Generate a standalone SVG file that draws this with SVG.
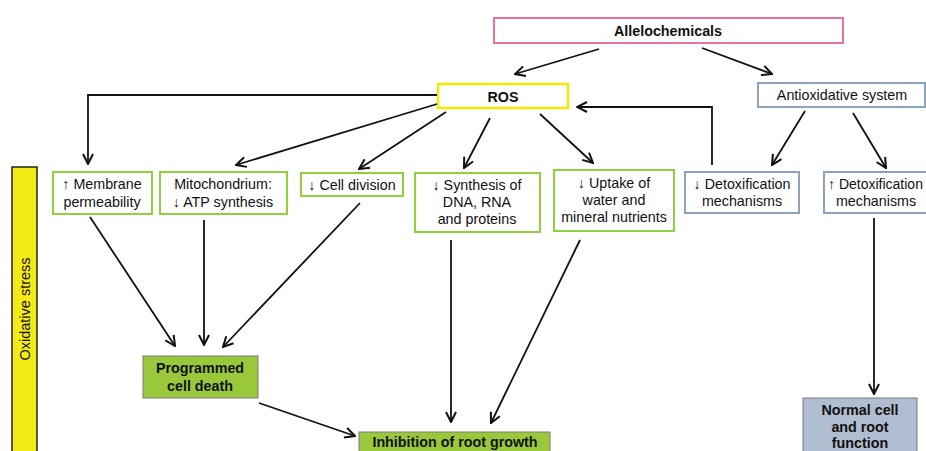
<svg xmlns="http://www.w3.org/2000/svg" width="926" height="451" viewBox="0 0 926 451">
<defs>
<marker id="ah" viewBox="0 0 12 12" refX="11" refY="6" markerWidth="12" markerHeight="12" markerUnits="userSpaceOnUse" orient="auto">
<path d="M1,1 L11,6 L1,11" fill="none" stroke="#111" stroke-width="2"/>
</marker>
<style>
text{font-family:"Liberation Sans",Arial,sans-serif;font-size:14.3px;fill:#111;text-anchor:middle}
.b{font-weight:bold}
.g{fill:#fff;stroke:#92cf3c;stroke-width:2}
.bl{fill:#fff;stroke:#8ea2bd;stroke-width:2}
.c{fill:none;stroke:#111;stroke-width:1.8;marker-end:url(#ah)}
</style>
</defs>
<rect width="926" height="451" fill="#fff"/>

<g id="oxidative-stress">
<rect x="12" y="167" width="25" height="300" fill="#f3ea16" stroke="#222" stroke-width="1.5"/>
<text transform="translate(30,309) rotate(-90)" style="font-size:14.5px">Oxidative stress</text>
</g>

<g id="allelochemicals">
<rect x="494" y="18" width="349" height="25" fill="#fff" stroke="#e8719f" stroke-width="2"/>
<text x="668" y="36" class="b">Allelochemicals</text>
</g>

<g id="ros">
<rect x="438" y="84" width="130" height="24" fill="#fff" stroke="#f2ea00" stroke-width="2.5"/>
<text x="503" y="102" class="b">ROS</text>
</g>

<g id="antioxidative">
<rect x="758" y="83" width="167" height="24" class="bl"/>
<text x="842" y="100">Antioxidative system</text>
</g>

<g id="membrane">
<rect x="53" y="172" width="99" height="42" class="g"/>
<text x="102" y="189">↑ Membrane</text>
<text x="102" y="207">permeability</text>
</g>

<g id="mitochondrium">
<rect x="160" y="172" width="127" height="42" class="g"/>
<text x="223" y="189">Mitochondrium:</text>
<text x="223" y="207">↓ ATP synthesis</text>
</g>

<g id="cell-division">
<rect x="301" y="173" width="102" height="23" class="g"/>
<text x="352" y="190">↓ Cell division</text>
</g>

<g id="synthesis">
<rect x="415" y="173" width="125" height="59" class="g"/>
<text x="477" y="190">↓ Synthesis of</text>
<text x="477" y="207">DNA, RNA</text>
<text x="477" y="224">and proteins</text>
</g>

<g id="uptake">
<rect x="554" y="170" width="120" height="61" class="g"/>
<text x="614" y="188">↓ Uptake of</text>
<text x="614" y="205">water and</text>
<text x="614" y="222">mineral nutrients</text>
</g>

<g id="detox-down">
<rect x="685" y="172" width="114" height="41" class="bl"/>
<text x="742" y="189">↓ Detoxification</text>
<text x="742" y="206">mechanisms</text>
</g>

<g id="detox-up">
<rect x="824" y="172" width="110" height="41" class="bl"/>
<text x="828" y="189" style="text-anchor:start;font-size:14px">↑ Detoxification</text>
<text x="876" y="206">mechanisms</text>
</g>

<g id="programmed-cell-death">
<rect x="143" y="356" width="115" height="42" fill="#99c93b" stroke="#7a7a7a" stroke-width="1"/>
<text x="200" y="373" class="b">Programmed</text>
<text x="200" y="391" class="b">cell death</text>
</g>

<g id="inhibition">
<rect x="359" y="432" width="191" height="30" fill="#99c93b" stroke="#7a7a7a" stroke-width="1"/>
<text x="455" y="447" class="b">Inhibition of root growth</text>
</g>

<g id="normal-cell">
<rect x="803" y="398" width="114" height="60" fill="#b1bdd0" stroke="#7a7a7a" stroke-width="1"/>
<text x="860" y="415" class="b">Normal cell</text>
<text x="860" y="432" class="b">and root</text>
<text x="860" y="448" class="b">function</text>
</g>

<g id="connectors">
<path class="c" d="M599,49 L515,74"/>
<path class="c" d="M702,48 L772,74"/>
<path class="c" d="M437,95 H88 V164"/>
<path class="c" d="M437,104 L236,165"/>
<path class="c" d="M446,112 L359,169"/>
<path class="c" d="M490,118 L464,168"/>
<path class="c" d="M540,114 L593,163"/>
<path class="c" d="M712,165 V107 H577"/>
<path class="c" d="M805,111 L772,165"/>
<path class="c" d="M853,113 L886,168"/>
<path class="c" d="M874,218 V394"/>
<path class="c" d="M90,217 L175,346"/>
<path class="c" d="M204,220 V345"/>
<path class="c" d="M360,203 L223,347"/>
<path class="c" d="M259,403 L355,436"/>
<path class="c" d="M451,240 V422"/>
<path class="c" d="M580,240 L491,423"/>
</g>
</svg>
